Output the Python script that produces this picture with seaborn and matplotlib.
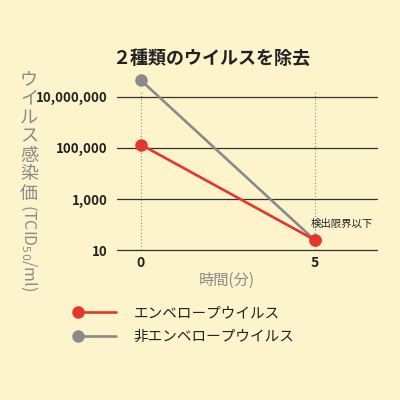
import numpy as np
import pandas as pd
import seaborn as sns
import matplotlib.pyplot as plt
from matplotlib.lines import Line2D
from matplotlib.legend_handler import HandlerLine2D

# data
minutes = [0, 5]
envelope = [1.35e5, 25]
non_envelope = [4.5e7, 25]
series_names = ["エンベロープウイルス", "非エンベロープウイルス"]
y_ticks = [10, 1e3, 1e5, 1e7]
y_tick_labels = ["10", "1,000", "100,000", "10,000,000"]
x_ticks = [0, 5]
detect_note = "検出限界以下"

BG = "#fdf4cc"
RED = "#e5352c"
GRAY = "#8a8a8a"
INK = "#222222"

df = pd.DataFrame({
    "time": minutes * 2,
    "titer": non_envelope + envelope,
    "virus": [series_names[1]] * 2 + [series_names[0]] * 2,
})

sns.set_theme(style="white")
plt.rcParams["font.family"] = ["Noto Sans CJK JP", "DejaVu Sans"]

fig = plt.figure(figsize=(4, 4), dpi=100, facecolor=BG)
ax = fig.add_axes([0.2925, 0.375, 0.65, 0.44])
ax.set_facecolor(BG)

ax.set_yscale("log")
ax.set_ylim(10, 10 ** 7.9)
ax.set_xlim(-0.69, 6.8)

for t in x_ticks:
    ax.vlines(t, 10, 1.9e7, colors=GRAY, linestyles=(0, (1, 2)), linewidth=0.8, zorder=1)

for v in y_ticks:
    ax.axhline(v, color="#333333", linewidth=0.9, zorder=1)

sns.lineplot(data=df, x="time", y="titer", hue="virus",
             hue_order=[series_names[1], series_names[0]],
             palette={series_names[0]: RED, series_names[1]: GRAY},
             marker="o", markersize=9, markeredgewidth=0, linewidth=1.9,
             legend=False, ax=ax, zorder=3)
for ln in ax.get_lines():
    ln.set_clip_on(False)

ax.set_yticks(y_ticks)
ax.set_yticklabels(y_tick_labels)
ax.yaxis.set_minor_locator(plt.NullLocator())
ax.set_xticks(x_ticks)
ax.tick_params(axis="y", length=0, pad=6.5, labelsize=9.5, labelcolor=INK)
ax.tick_params(axis="x", length=0, pad=4, labelsize=10, labelcolor=INK)
for lab in ax.get_xticklabels() + ax.get_yticklabels():
    lab.set_fontweight("bold")
for s in ax.spines.values():
    s.set_visible(False)
ax.set_xlabel("")
ax.set_ylabel("")

ax.annotate(detect_note, xy=(5, envelope[1]), xytext=(19.5, 11.5),
            textcoords="offset points", ha="center", va="center",
            fontsize=7.5, color=INK)

# title and axis labels
fig.text(0.529, 0.855, "２種類のウイルスを除去", ha="center", va="center",
         fontsize=13, fontweight="bold", color=INK)
fig.text(0.567, 0.30, "時間(分)", ha="center", va="center",
         fontsize=11, color=GRAY)

# vertical Japanese label: kana/kanji upright, latin rotated
y_chars = "ウイルス感染価"
top = 1 - 70 / 400
step = 19 / 400
for i, ch in enumerate(y_chars):
    fig.text(0.0725, top - step * (i + 0.5), ch, ha="center", va="center",
             fontsize=13, color=GRAY)
fig.text(0.0725, top - step * len(y_chars) - 0.002, "(TCID$_{50}$/ml)", rotation=-90,
         ha="center", va="top", fontsize=11.5, color=GRAY)


class StartMarker(HandlerLine2D):
    def create_artists(self, *args, **kwargs):
        arts = super().create_artists(*args, **kwargs)
        for a in arts:
            a.set_markevery([0])
        return arts


handles = [
    Line2D([], [], color=RED, marker="o", markersize=9, markeredgewidth=0, linewidth=1.9),
    Line2D([], [], color=GRAY, marker="o", markersize=9, markeredgewidth=0, linewidth=1.9),
]
fig.legend(handles, series_names, loc="upper left", bbox_to_anchor=(0.185, 0.234),
           frameon=False, fontsize=10.5, numpoints=2, handlelength=3.2,
           handletextpad=0.9, labelspacing=0.65, borderaxespad=0, borderpad=0,
           handler_map={Line2D: StartMarker()}, labelcolor=INK)

fig.savefig("out.png", dpi=100, facecolor=BG)
